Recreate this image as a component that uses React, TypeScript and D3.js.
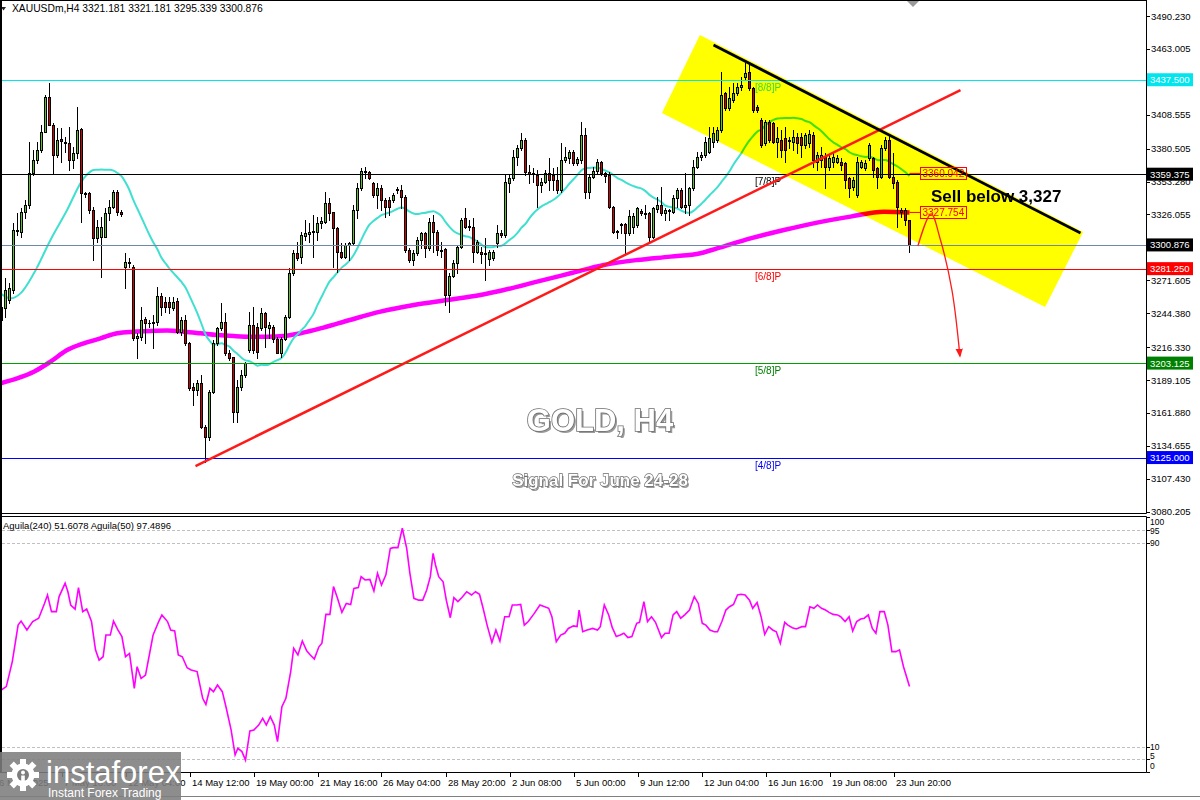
import React from "react";
import * as d3 from "d3";

// ---------- DATA ----------
const opens = [
  3238.8, 3248.4, 3255.3, 3263.6, 3313.5, 3311.8, 3328.4, 3333.9, 3360.1, 3371.1,
  3379.4, 3394.6, 3423.5, 3400.1, 3375.3, 3388.5, 3384.9, 3384.9, 3371.1, 3376.6,
  3396.8, 3343.0, 3344.1, 3329.8, 3306.3, 3307.7, 3307.7, 3327.0, 3332.5, 3344.9,
  3328.4, 3282.9, 3287.0, 3282.9, 3223.6, 3225.0, 3239.6, 3236.6, 3236.0, 3237.4,
  3258.9, 3253.9, 3253.4, 3248.4, 3254.8, 3229.1, 3238.8, 3219.5, 3183.1, 3180.9,
  3186.4, 3150.6, 3142.3, 3179.5, 3220.0, 3231.9, 3237.4, 3211.2, 3207.9, 3163.0,
  3183.6, 3193.3, 3214.0, 3234.7, 3233.3, 3231.9, 3244.3, 3231.9, 3233.3, 3222.8,
  3211.8, 3222.8, 3241.5, 3277.4, 3293.9, 3290.6, 3308.3, 3309.9, 3311.3, 3311.8,
  3318.7, 3320.1, 3335.3, 3327.8, 3314.6, 3295.3, 3291.2, 3300.8, 3302.2, 3329.8,
  3347.7, 3360.9, 3361.5, 3352.4, 3342.2, 3347.7, 3338.0, 3338.0, 3338.0, 3346.3,
  3346.3, 3340.8, 3296.7, 3288.4, 3293.9, 3305.0, 3310.5, 3298.1, 3320.1, 3311.8,
  3297.0, 3297.2, 3259.5, 3275.2, 3286.2, 3299.4, 3322.9, 3316.5, 3316.0, 3295.3,
  3295.3, 3293.4, 3289.0, 3289.8, 3302.2, 3310.5, 3309.1, 3352.4, 3356.0, 3373.9,
  3381.3, 3387.7, 3361.5, 3359.5, 3358.7, 3350.4, 3353.2, 3360.1, 3358.7, 3354.6,
  3346.3, 3371.1, 3372.5, 3378.0, 3368.4, 3371.1, 3391.8, 3344.9, 3356.8, 3362.3,
  3369.7, 3360.1, 3358.7, 3332.0, 3312.0, 3317.1, 3318.2, 3310.5, 3316.0, 3317.4,
  3329.2, 3327.5, 3327.0, 3307.7, 3330.5, 3333.9, 3327.0, 3329.8, 3328.4, 3339.4,
  3346.3, 3332.5, 3333.9, 3347.7, 3365.6, 3373.3, 3375.3, 3378.0, 3386.3, 3387.7,
  3396.0, 3426.3, 3413.9, 3420.8, 3426.3, 3431.2, 3439.5, 3444.2, 3430.4, 3414.7,
  3404.2, 3384.9, 3402.8, 3401.5, 3386.3, 3387.7, 3389.0, 3387.7, 3386.3, 3390.4,
  3389.9, 3383.5, 3384.9, 3391.8, 3369.7, 3371.1, 3373.9, 3365.6, 3369.7, 3369.7,
  3369.7, 3368.4, 3356.0, 3349.1, 3342.2, 3365.6, 3364.2, 3372.5, 3372.5, 3364.2,
  3357.3, 3380.8, 3387.7, 3357.3, 3353.2, 3329.8, 3329.8, 3321.181,
];
const highs = [
  3251.2, 3273.3, 3269.1, 3318.7, 3327.0, 3331.2, 3338.0, 3386.3, 3379.4, 3386.3,
  3400.1, 3424.9, 3434.5, 3401.5, 3397.3, 3397.3, 3390.4, 3398.7, 3382.1, 3415.3,
  3397.3, 3344.9, 3344.9, 3332.5, 3321.5, 3324.3, 3331.2, 3338.0, 3346.3, 3346.3,
  3329.8, 3293.9, 3290.0, 3284.3, 3227.8, 3249.8, 3241.5, 3238.8, 3242.9, 3266.4,
  3260.8, 3258.1, 3258.1, 3257.5, 3256.7, 3241.5, 3242.9, 3220.9, 3186.4, 3189.2,
  3193.3, 3151.9, 3180.9, 3222.3, 3233.3, 3252.6, 3244.3, 3214.0, 3208.5, 3189.2,
  3197.4, 3204.3, 3245.7, 3249.8, 3236.0, 3248.4, 3245.7, 3237.4, 3234.7, 3225.0,
  3225.0, 3242.9, 3281.5, 3296.7, 3303.6, 3311.9, 3321.5, 3318.7, 3325.6, 3324.3,
  3324.3, 3344.9, 3339.4, 3328.4, 3316.0, 3302.2, 3302.2, 3303.6, 3333.9, 3351.8,
  3364.2, 3365.6, 3362.0, 3353.2, 3351.8, 3350.4, 3339.4, 3340.8, 3343.5, 3349.0,
  3350.4, 3342.2, 3298.1, 3296.7, 3307.7, 3311.8, 3311.8, 3322.9, 3325.6, 3313.2,
  3303.6, 3298.0, 3277.4, 3288.4, 3300.8, 3322.9, 3331.2, 3321.5, 3322.9, 3305.0,
  3299.4, 3306.3, 3296.7, 3296.7, 3317.4, 3313.0, 3358.7, 3358.7, 3379.4, 3383.5,
  3393.2, 3389.0, 3367.0, 3364.2, 3362.9, 3356.0, 3362.9, 3372.5, 3364.2, 3365.6,
  3384.9, 3382.2, 3379.4, 3379.4, 3373.9, 3402.8, 3397.3, 3358.7, 3365.6, 3371.7,
  3370.5, 3361.5, 3361.5, 3333.4, 3313.2, 3319.3, 3318.7, 3329.8, 3327.0, 3332.5,
  3330.3, 3333.9, 3328.4, 3332.5, 3340.8, 3349.0, 3331.2, 3330.5, 3342.2, 3347.7,
  3347.7, 3360.1, 3349.0, 3371.1, 3378.0, 3378.0, 3390.4, 3398.7, 3398.7, 3398.7,
  3444.2, 3427.6, 3431.8, 3434.5, 3434.5, 3440.0, 3451.1, 3451.6, 3431.8, 3416.6,
  3405.6, 3404.2, 3404.2, 3402.8, 3398.7, 3396.0, 3398.7, 3390.4, 3396.0, 3393.2,
  3393.2, 3393.2, 3396.0, 3394.6, 3378.0, 3382.2, 3376.6, 3375.3, 3376.6, 3375.3,
  3372.5, 3369.7, 3357.3, 3357.3, 3373.9, 3371.1, 3371.1, 3384.9, 3373.9, 3365.6,
  3383.5, 3390.4, 3391.8, 3376.6, 3354.6, 3331.1, 3331.1, 3321.181,
];
const lows = [
  3237.4, 3241.5, 3252.6, 3260.8, 3309.1, 3307.7, 3322.9, 3331.2, 3358.7, 3368.4,
  3378.0, 3394.6, 3400.1, 3360.1, 3373.9, 3369.7, 3378.0, 3362.9, 3364.2, 3372.5,
  3320.1, 3340.8, 3327.0, 3288.4, 3303.6, 3274.6, 3307.7, 3321.5, 3331.2, 3325.6,
  3324.8, 3265.0, 3283.0, 3222.3, 3207.1, 3222.3, 3219.5, 3233.3, 3215.4, 3234.7,
  3242.9, 3245.7, 3244.3, 3247.1, 3227.8, 3226.4, 3218.1, 3180.9, 3168.5, 3176.8,
  3149.2, 3121.6, 3139.5, 3178.1, 3218.1, 3230.5, 3209.8, 3205.7, 3154.7, 3154.7,
  3180.9, 3191.9, 3212.6, 3211.2, 3207.1, 3230.5, 3216.7, 3223.6, 3220.9, 3211.2,
  3208.5, 3222.3, 3240.2, 3276.0, 3288.4, 3285.7, 3305.0, 3303.6, 3291.2, 3305.0,
  3314.6, 3318.7, 3321.5, 3282.9, 3278.7, 3289.8, 3289.8, 3288.4, 3300.8, 3322.9,
  3346.3, 3356.0, 3355.5, 3340.8, 3331.2, 3329.8, 3324.3, 3325.6, 3336.7, 3343.5,
  3331.2, 3295.3, 3287.0, 3284.3, 3292.5, 3298.1, 3291.2, 3296.7, 3295.3, 3292.5,
  3291.2, 3251.2, 3245.7, 3274.6, 3277.4, 3298.1, 3314.6, 3313.2, 3287.0, 3293.9,
  3285.7, 3271.9, 3284.3, 3288.4, 3299.4, 3307.7, 3307.7, 3344.9, 3354.6, 3367.0,
  3379.4, 3358.7, 3351.8, 3353.2, 3332.5, 3344.9, 3351.8, 3346.3, 3346.3, 3343.5,
  3344.9, 3369.7, 3368.4, 3367.0, 3367.0, 3368.4, 3339.4, 3339.4, 3356.0, 3360.1,
  3358.7, 3353.2, 3331.2, 3310.5, 3306.3, 3310.5, 3293.9, 3309.1, 3310.5, 3316.0,
  3325.6, 3322.9, 3303.6, 3306.3, 3328.4, 3325.6, 3321.5, 3321.5, 3327.0, 3332.5,
  3331.2, 3327.0, 3325.6, 3346.3, 3364.2, 3371.1, 3373.9, 3376.6, 3382.2, 3386.3,
  3394.6, 3412.5, 3412.5, 3419.4, 3424.9, 3429.0, 3437.3, 3429.0, 3411.1, 3411.1,
  3382.2, 3383.5, 3386.3, 3384.9, 3373.9, 3373.9, 3369.7, 3380.8, 3379.4, 3376.6,
  3373.9, 3380.8, 3382.2, 3365.6, 3362.9, 3365.6, 3347.7, 3362.9, 3365.6, 3368.4,
  3362.9, 3347.7, 3340.8, 3346.3, 3340.8, 3364.2, 3362.9, 3371.1, 3357.3, 3347.7,
  3356.0, 3379.4, 3356.0, 3348.0, 3316.0, 3324.3, 3317.4, 3295.339,
];
const closes = [
  3249.8, 3263.6, 3265.0, 3313.2, 3312.0, 3328.4, 3333.9, 3360.1, 3371.1, 3379.4,
  3394.6, 3423.5, 3400.1, 3375.3, 3387.7, 3387.1, 3386.3, 3371.1, 3376.6, 3395.9,
  3343.6, 3344.1, 3329.8, 3306.3, 3316.0, 3316.0, 3327.0, 3332.5, 3344.9, 3328.4,
  3326.5, 3287.0, 3285.6, 3223.6, 3225.6, 3238.8, 3236.0, 3236.0, 3237.4, 3258.9,
  3249.8, 3249.8, 3249.3, 3253.9, 3229.1, 3238.8, 3219.5, 3182.3, 3180.9, 3186.4,
  3150.6, 3142.3, 3179.5, 3220.0, 3231.9, 3237.4, 3211.2, 3207.1, 3163.0, 3183.6,
  3193.3, 3202.9, 3234.7, 3214.0, 3212.6, 3244.3, 3233.3, 3234.7, 3222.8, 3211.8,
  3222.8, 3241.5, 3277.4, 3293.9, 3289.8, 3309.1, 3310.5, 3311.8, 3312.4, 3318.7,
  3320.9, 3335.3, 3327.6, 3314.6, 3295.3, 3291.2, 3300.8, 3302.2, 3329.8, 3347.7,
  3362.0, 3362.0, 3356.0, 3342.2, 3347.7, 3338.0, 3332.5, 3332.5, 3342.2, 3346.8,
  3340.8, 3296.7, 3288.4, 3293.9, 3305.0, 3310.5, 3298.1, 3320.1, 3311.8, 3296.7,
  3296.0, 3259.5, 3275.2, 3286.2, 3299.4, 3321.5, 3316.0, 3315.5, 3295.3, 3303.6,
  3293.4, 3294.5, 3295.3, 3295.3, 3310.5, 3309.1, 3353.2, 3356.0, 3373.9, 3381.3,
  3387.7, 3361.5, 3359.5, 3360.5, 3350.4, 3353.2, 3360.1, 3354.6, 3354.6, 3346.3,
  3371.1, 3373.3, 3378.0, 3368.4, 3371.7, 3391.8, 3344.9, 3356.8, 3362.3, 3369.7,
  3360.1, 3357.9, 3332.0, 3311.8, 3311.2, 3318.2, 3310.5, 3324.8, 3324.8, 3331.2,
  3327.0, 3326.5, 3307.7, 3331.2, 3333.9, 3327.0, 3329.8, 3328.6, 3339.4, 3346.3,
  3332.5, 3333.9, 3347.7, 3365.6, 3373.3, 3375.3, 3386.3, 3389.0, 3393.2, 3396.0,
  3424.9, 3413.9, 3422.1, 3426.3, 3431.8, 3433.2, 3443.4, 3430.4, 3412.5, 3412.5,
  3383.5, 3402.8, 3387.7, 3386.3, 3389.0, 3379.4, 3379.4, 3387.1, 3390.4, 3384.9,
  3383.5, 3391.8, 3392.6, 3371.1, 3375.3, 3375.3, 3365.6, 3372.5, 3373.9, 3372.5,
  3367.0, 3354.6, 3347.7, 3354.6, 3369.7, 3369.7, 3368.4, 3383.5, 3362.9, 3357.3,
  3380.8, 3387.7, 3357.3, 3352.0, 3332.5, 3328.4, 3321.5, 3300.876,
];

const SMA_N = 21;
const maFastLead: [number, number][] = [
  [-0.25, 3260.8], [2.25, 3256.7], [4.75, 3260.8], [8.1, 3277.4], [12.25, 3305.0], [16.4, 3329.8],
];
// slow MA (magenta) as [bar, price]
const maSlow: [number, number][] = [
  [-0.25, 3186.4], [3.9, 3190.5], [8.1, 3196.0], [12.25, 3204.3], [16.4, 3213.9], [20.6, 3219.5],
  [24.75, 3223.6], [28.9, 3227.8], [33.1, 3229.1], [37.25, 3229.7], [41.4, 3230.0], [45.6, 3229.1],
  [49.75, 3227.8], [53.9, 3226.4], [58.1, 3225.5], [62.25, 3225.0], [66.4, 3225.0], [70.6, 3225.5],
  [74.75, 3227.8], [80.5, 3232.5], [87.1, 3238.8], [94.75, 3245.7], [103.1, 3251.2], [111.4, 3255.3],
  [119.75, 3259.5], [125.6, 3263.6], [133.9, 3270.5], [142.25, 3277.4], [150.6, 3284.3],
  [158.9, 3288.4], [167.25, 3291.2], [174.75, 3294.0], [178.9, 3298.0], [187.25, 3306.3],
  [195.6, 3313.2], [203.9, 3319.3], [212.25, 3324.3], [220.6, 3328.4], [227, 3327.754],
];

// Aguila oscillator, [bar, value]
const aguila: [number, number][] = [
  [0, 32.2], [1.2, 33.5], [2.7, 43.3], [4.15, 57.6], [4.9, 59.2], [6.35, 55.7], [7.8, 59.0], [9.3, 60.3],
  [10.75, 66.1], [11.5, 69.4], [12.5, 62.9], [13.7, 62.9], [14.4, 68.8], [15.9, 74.0], [16.6, 70.7],
  [17.3, 65.5], [18.4, 63.9], [19.25, 72.3], [20.3, 62.9], [21.3, 63.9], [22.5, 59.0], [23.5, 47.9],
  [24.4, 43.9], [25.4, 45.2], [26.1, 53.7], [27.2, 53.7], [28.0, 59.2], [29.1, 55.7], [30.1, 53.1],
  [31.0, 45.2], [32.0, 46.5], [33.2, 32.8], [33.9, 41.3], [34.9, 36.7], [36.0, 38.0], [36.8, 44.6],
  [37.9, 53.7], [39.3, 59.0], [40.1, 61.6], [41.5, 59.0], [42.3, 55.7], [43.3, 55.3], [44.2, 45.9],
  [45.2, 45.2], [46.4, 40.9], [47.4, 40.0], [48.9, 39.4], [50.3, 28.9], [51.1, 26.5], [52.1, 32.8],
  [53.0, 31.5], [54.0, 34.1], [55.2, 31.5], [56.2, 25.0], [57.4, 16.5], [58.4, 6.7], [59.1, 9.3],
  [60.1, 8.0], [61.0, 4.7], [62.1, 16.1], [63.1, 16.5], [64.3, 18.4], [65.3, 21.0], [66.2, 18.4],
  [67.2, 21.7], [68.2, 18.4], [69.0, 11.9], [70.1, 25.6], [71.1, 28.9], [72.3, 39.4], [73.05, 48.5],
  [74.1, 45.9], [75.2, 51.4], [76.3, 47.5], [77.2, 45.9], [78.2, 44.3], [79.35, 49.1], [80.1, 50.5],
  [81.1, 61.8], [82.1, 61.8], [83.0, 72.7], [84.0, 68.1], [85.1, 62.6], [86.2, 66.1], [87.3, 65.7],
  [88.1, 72.0], [89.2, 72.3], [89.9, 76.6], [90.9, 75.3], [92.1, 75.5], [93.1, 71.0], [94.0, 77.9],
  [95.0, 73.3], [96.1, 77.3], [97.2, 87.7], [98.0, 88.0], [99.1, 88.0], [100.2, 95.6], [101.3, 87.7],
  [102.1, 77.9], [103.1, 68.1], [104.3, 67.4], [105.3, 67.4], [106.3, 71.4], [107.2, 76.6],
  [107.9, 85.7], [108.5, 81.2], [109.3, 76.6], [110.4, 74.6], [111.2, 67.4], [112.2, 60.5],
  [113.1, 68.4], [114.1, 66.8], [115.1, 68.4], [116.3, 70.7], [117.5, 69.4], [118.5, 70.7],
  [119.5, 69.7], [120.4, 64.2], [121.4, 57.6], [122.6, 50.8], [123.6, 55.7], [124.6, 51.4],
  [125.8, 60.9], [126.9, 60.9], [127.7, 65.5], [128.8, 65.5], [129.8, 65.7], [130.7, 57.6],
  [131.7, 59.0], [133.2, 62.2], [134.6, 65.5], [135.8, 64.8], [136.8, 64.2], [137.6, 60.9],
  [138.7, 51.1], [139.8, 53.7], [140.8, 54.4], [141.7, 56.3], [143.0, 57.3], [143.9, 57.0],
  [144.4, 63.5], [145.3, 55.0], [146.4, 55.7], [147.8, 56.3], [149.0, 55.7], [149.7, 57.0],
  [150.7, 65.5], [151.8, 61.6], [152.7, 56.6], [153.7, 53.1], [154.7, 53.7], [155.6, 54.4],
  [156.6, 52.7], [157.6, 53.1], [158.8, 58.3], [159.5, 58.7], [160.6, 66.8], [161.5, 59.0],
  [162.5, 60.9], [163.5, 58.7], [165.0, 52.7], [165.9, 54.4], [166.9, 54.4], [167.9, 61.6],
  [168.8, 62.9], [169.8, 60.3], [170.8, 61.6], [172.0, 63.5], [173.2, 68.8], [174.2, 66.1],
  [175.2, 58.3], [176.1, 57.6], [177.1, 55.7], [178.2, 55.0], [179.0, 55.0], [180.1, 59.0],
  [181.1, 63.5], [182.0, 64.8], [183.0, 65.7], [184.0, 69.4], [184.9, 69.7], [185.9, 69.4],
  [187.0, 67.4], [187.8, 64.2], [188.9, 66.5], [189.9, 60.9], [190.8, 54.0], [191.8, 57.0],
  [192.8, 55.7], [193.7, 55.0], [194.7, 50.5], [195.8, 58.7], [196.6, 57.6], [197.7, 56.6],
  [198.7, 56.1], [200.1, 57.0], [201.0, 57.0], [202.1, 64.8], [203.1, 64.2], [204.0, 65.5],
  [205.0, 64.2], [206.0, 63.5], [206.9, 62.6], [207.9, 61.8], [209.0, 61.6], [209.8, 60.9],
  [210.9, 59.0], [211.9, 60.9], [212.8, 55.3], [213.8, 59.0], [214.8, 60.0], [215.7, 60.3],
  [216.7, 61.6], [217.7, 56.3], [218.6, 54.4], [219.6, 62.9], [220.7, 62.9], [221.6, 57.6],
  [222.6, 47.2], [223.6, 47.2], [224.5, 47.9], [225.5, 41.3], [227.0, 33.5],
];

// price axis ticks (the ones hidden under level boxes are left out)
const priceTicks = [
  3490.23, 3463.005, 3408.555, 3380.505, 3353.28, 3326.055,
  3271.605, 3244.38, 3216.33, 3189.105, 3161.88, 3134.655, 3107.43, 3080.205,
];
// time axis (bar index of tick, label)
const timeTickBars = [-1, 15, 31, 47, 63, 79, 95, 111, 127, 143, 159, 175, 191, 207, 223];
const timeTickLabels = [
  "6 May 2025", "7 May 16:00", "12 May 04:00", "14 May 12:00", "19 May 00:00", "21 May 16:00",
  "26 May 04:00", "28 May 20:00", "2 Jun 08:00", "5 Jun 00:00", "9 Jun 12:00", "12 Jun 04:00",
  "16 Jun 16:00", "19 Jun 08:00", "23 Jun 20:00",
];
// horizontal levels
const levelPrices = [3437.5, 3359.375, 3300.876, 3281.25, 3203.125, 3125.0];
const levelColors = ["#00e5ee", "#000000", "#7088a8", "#ff0000", "#00a000", "#0000ff"];
const levelBoxColors = ["#00e5ee", "#000000", "#000000", "#ff0000", "#008000", "#0000ff"];
const levelTags = ["[8/8]P", "[7/8]P", "", "[6/8]P", "[5/8]P", "[4/8]P"];
const levelTagColors = ["#33dd33", "#000000", "", "#ff0000", "#008000", "#0000ff"];
// indicator levels and their label positions (label value, display centre value)
const oscLevels = [95, 90, 10, 5];
const oscLabels = [100, 95, 90, 10, 5, 0];
const oscLabelAt = [98, 94.6, 89.8, 10, 6.2, 2.4];
// drawn objects, [bar, price]
const upTrend: [number, number][] = [[48.5, 3118.0], [239.75, 3429.0]];
const downTrend: [number, number][] = [[178, 3466.2], [269.75, 3310.7]];
const channel: [number, number][] = [[174.6, 3474.5], [270.4, 3311.6], [260.9, 3249.5], [165.1, 3410.0]];
const arrowPath: [number, number][] = [[229.1, 3300.0], [232.4, 3326.5], [234.6, 3306.6], [237.6, 3263.6], [239.6, 3209.0]];
const maLabels = [3360.042, 3327.754];

const FONT = "'Liberation Sans', Arial, sans-serif";

export default function App() {
  const x = d3.scaleLinear().domain([0, 227]).range([1.5, 909.5]);
  const y = d3.scaleLinear().domain([3080.205, 3490.23]).range([511.7, 16]);
  const yi = d3.scaleLinear().domain([0, 100]).range([772, 517]);

  const sma: [number, number][] = [];
  for (let i = SMA_N - 1; i < closes.length; i++) {
    sma.push([i, d3.sum(closes.slice(i - SMA_N + 1, i + 1)) / SMA_N]);
  }
  const maFast = [...maFastLead, ...sma];

  const line = d3.line<[number, number]>().x((d) => x(d[0])).y((d) => y(d[1]));
  const smooth = d3.line<[number, number]>().x((d) => x(d[0])).y((d) => y(d[1])).curve(d3.curveMonotoneX);
  const arrowLine = d3.line<[number, number]>().x((d) => x(d[0])).y((d) => y(d[1])).curve(d3.curveCatmullRom);
  const oscLine = d3.line<[number, number]>().x((d) => x(d[0])).y((d) => yi(d[1]));

  const chPts = channel.map((d) => `${x(d[0])},${y(d[1])}`).join(" ");
  const lastX = x(227);

  return (
    <div style={{ position: "absolute", left: 0, top: 0 }}>
      <svg width={1200} height={800} style={{ display: "block", fontFamily: FONT }}>
        <defs>
          <clipPath id="mainClip"><rect x={2} y={1} width={1144} height={512} /></clipPath>
          <clipPath id="oscClip"><rect x={2} y={517} width={1144} height={255} /></clipPath>
          <marker id="arrowHead" viewBox="0 0 10 10" refX={8} refY={5} markerWidth={7} markerHeight={7} orient="auto">
            <path d="M0,1 L10,5 L0,9 Z" fill="#ff1a1a" />
          </marker>
        </defs>
        <rect x={0} y={0} width={1200} height={800} fill="#ffffff" />

        {/* MAIN PANEL */}
        <g clipPath="url(#mainClip)">
          <path d={smooth(maSlow) || ""} fill="none" stroke="#ff00ff" strokeWidth={4.5} />
          <path d={smooth(maFast) || ""} fill="none" stroke="#40e0d0" strokeWidth={2} />
          <polygon points={chPts} fill="#ffff00" style={{ mixBlendMode: "multiply" }} />

          {/* candles */}
          {closes.map((c, i) => {
            const o = opens[i];
            const up = c >= o;
            const cx = x(i);
            const top = Math.round(y(Math.max(o, c))) + 0.5;
            const bot = Math.round(y(Math.min(o, c))) + 0.5;
            return (
              <g key={i}>
                <line x1={cx} x2={cx} y1={Math.round(y(highs[i]))} y2={Math.round(y(lows[i])) + 1} stroke="#000" strokeWidth={1} />
                <rect x={cx - 1} y={top} width={2} height={Math.max(0.01, bot - top)} fill={up ? "#5cc22a" : "#d40000"} stroke="#000" strokeWidth={1} />
              </g>
            );
          })}

          {/* horizontal levels */}
          {levelPrices.map((p, k) => (
            <g key={k}>
              <line x1={2} x2={1146} y1={Math.round(y(p)) + 0.5} y2={Math.round(y(p)) + 0.5} stroke={levelColors[k]} strokeWidth={1} />
              {levelTags[k] && (
                <text x={755} y={y(p) + 11} fontSize={10} fill={levelTagColors[k]}>{levelTags[k]}</text>
              )}
            </g>
          ))}

          {/* trend lines */}
          <path d={line(upTrend) || ""} stroke="#ff1a1a" strokeWidth={2.5} fill="none" />
          <path d={line(downTrend) || ""} stroke="#000" strokeWidth={2.8} fill="none" />

          {/* MA value labels */}
          {maLabels.map((p, k) => (
            <g key={k}>
              <line x1={lastX} x2={920.5} y1={y(p)} y2={y(p)} stroke="#ff0000" strokeWidth={1} />
              <rect x={920.5} y={Math.round(y(p)) - 6 + 0.5} width={46} height={12} fill="none" stroke="#ff0000" strokeWidth={1} />
              <text x={922.5} y={y(p) + 4} fontSize={10} fill="#ff0000">{p.toFixed(3)}</text>
            </g>
          ))}

          <text x={931} y={202} fontSize={17} fontWeight="bold" fill="#000">Sell below 3,327</text>

          <path d={arrowLine(arrowPath) || ""} fill="none" stroke="#ff1a1a" strokeWidth={1.3} markerEnd="url(#arrowHead)" />

          {/* title texts */}
          <text x={602} y={433} textAnchor="middle" fontSize={31} fontWeight="bold" fill="#9a9a9a">GOLD, H4</text>
          <text x={600} y={431} textAnchor="middle" fontSize={31} fontWeight="bold" fill="#ffffff" stroke="#6e6e6e" strokeWidth={1.6} style={{ paintOrder: "stroke" }}>GOLD, H4</text>
          <text x={601.5} y={487.5} textAnchor="middle" fontSize={17} fontWeight="bold" fill="#9a9a9a">Signal For June 24-28</text>
          <text x={600} y={486} textAnchor="middle" fontSize={17} fontWeight="bold" fill="#ffffff" stroke="#6e6e6e" strokeWidth={1.3} style={{ paintOrder: "stroke" }}>Signal For June 24-28</text>
        </g>

        {/* header */}
        <polygon points="1,7 6,7 3.5,10.5" fill="#222" />
        <text x={12} y={12} fontSize={10.3} fill="#000">XAUUSDm,H4  3321.181 3321.181 3295.339 3300.876</text>
        <polygon points="906,0 920,0 913,7" fill="#9a9a9a" />

        {/* INDICATOR PANEL */}
        <g clipPath="url(#oscClip)">
          {oscLevels.map((v) => (
            <line key={v} x1={2} x2={1146} y1={Math.round(yi(v)) + 0.5} y2={Math.round(yi(v)) + 0.5} stroke="#c0c0c0" strokeDasharray="3,2" />
          ))}
          <path d={oscLine(aguila) || ""} fill="none" stroke="#ff00ff" strokeWidth={1.6} />
          <text x={3} y={529} fontSize={9.5} fill="#000">Aguila(240) 51.6078  Aguila(50) 97.4896</text>
        </g>

        {/* frames */}
        <rect x={0} y={0} width={2} height={773} fill="#000" />
        <line x1={0} x2={1146.5} y1={0.5} y2={0.5} stroke="#000" />
        <line x1={0} x2={1146.5} y1={513.5} y2={513.5} stroke="#000" />
        <line x1={0} x2={1146.5} y1={516.5} y2={516.5} stroke="#000" />
        <line x1={0} x2={1146.5} y1={772.5} y2={772.5} stroke="#000" />
        <line x1={1146.5} x2={1146.5} y1={0} y2={513.5} stroke="#000" />
        <line x1={1146.5} x2={1146.5} y1={516.5} y2={772.5} stroke="#000" />
        <line x1={0} x2={1200} y1={796.5} y2={796.5} stroke="#808080" />

        {/* price axis */}
        {priceTicks.map((p) => (
          <g key={p}>
            <line x1={1146.5} x2={1150} y1={Math.round(y(p)) + 0.5} y2={Math.round(y(p)) + 0.5} stroke="#000" />
            <text x={1151} y={y(p) + 3.5} fontSize={9.5} fill="#000">{p.toFixed(3)}</text>
          </g>
        ))}
        {levelPrices.map((p, k) => (
          <g key={k}>
            <rect x={1147} y={y(p) - 6.5} width={46} height={13} fill={levelBoxColors[k]} />
            <text x={1150} y={y(p) + 3.5} fontSize={9.5} fill="#ffffff">{p.toFixed(3)}</text>
          </g>
        ))}

        {/* oscillator axis */}
        {oscLabels.map((v, k) => (
          <g key={v}>
            <line x1={1146.5} x2={1150} y1={Math.round(yi(v)) + 0.5} y2={Math.round(yi(v)) + 0.5} stroke="#000" />
            <text x={1150} y={yi(oscLabelAt[k]) + 3} fontSize={8.5} fill="#000">{v}</text>
          </g>
        ))}

        {/* time axis */}
        {timeTickBars.map((b, k) => {
          const xx = Math.round(x(b)) + 0.5;
          return (
            <g key={b}>
              <line x1={xx} x2={xx} y1={772.5} y2={777} stroke="#000" />
              <text x={xx + 1.5} y={786} fontSize={9.5} fill="#000">{timeTickLabels[k]}</text>
            </g>
          );
        })}

        {/* logo */}
        <g>
          <rect x={0} y={752} width={181} height={48} fill="#7d7d7d" opacity={0.88} />
          <g transform="translate(23,775)" fill="#ffffff">
            {d3.range(8).map((k) => (
              <rect key={k} x={-3} y={-16} width={6} height={7} transform={`rotate(${k * 45})`} />
            ))}
            <circle r={11.5} />
            <circle r={6} fill="#7d7d7d" />
            <circle cx={0} cy={-2.5} r={2} />
            <rect x={-1.8} y={0.5} width={3.6} height={9} />
          </g>
          <text x={46} y={783} fontSize={31} fill="#ffffff">instaforex</text>
          <text x={48} y={797} fontSize={12} fill="#ffffff">Instant Forex Trading</text>
        </g>
      </svg>
    </div>
  );
}
